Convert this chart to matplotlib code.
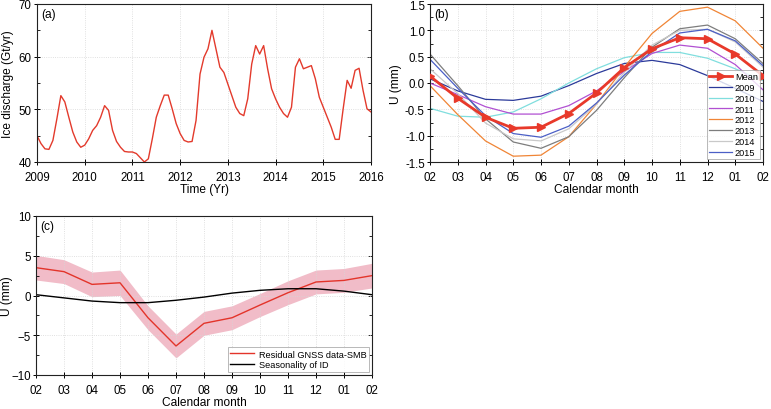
import numpy as np
import matplotlib
matplotlib.use("Agg")
import matplotlib.pyplot as plt
from matplotlib.ticker import MultipleLocator

plt.rcParams['font.family'] = ['Liberation Sans', 'DejaVu Sans']
plt.rcParams['font.size'] = 8.3

# ---------------- data ----------------
ice_discharge = [45.0, 43.5, 42.5, 42.4, 44.1, 48.2, 52.6, 51.4, 48.5, 45.7,
                 43.8, 42.8, 43.2, 44.4, 46.0, 46.9, 48.5, 50.7, 49.8, 46.0,
                 43.9, 42.8, 42.0, 41.9, 41.9, 41.6, 40.8, 40.0, 40.6, 44.4,
                 48.5, 50.7, 52.7, 52.7, 50.1, 47.3, 45.4, 44.1, 43.8, 43.9,
                 47.9, 56.7, 59.9, 61.5, 65.0, 61.5, 58.0, 57.0, 54.8, 52.6,
                 50.4, 49.2, 48.8, 52.0, 58.6, 62.1, 60.5, 62.1, 57.7, 53.9,
                 52.0, 50.4, 49.2, 48.5, 50.4, 58.0, 59.6, 57.7, 58.0, 58.3,
                 55.8, 52.3, 50.4, 48.5, 46.6, 44.3, 44.3, 50.1, 55.5, 54.0,
                 57.4, 57.8, 53.6, 50.1, 49.5]
time_years = 2009 + np.arange(len(ice_discharge)) / 12.0

months = ['02', '03', '04', '05', '06', '07', '08', '09', '10', '11', '12', '01', '02']

mean_u = [0.13, -0.29, -0.65, -0.86, -0.84, -0.58, -0.19, 0.29, 0.65, 0.86, 0.84, 0.55, 0.14]
u_2009 = [0.08, -0.15, -0.31, -0.33, -0.25, -0.05, 0.18, 0.37, 0.43, 0.35, 0.14, -0.10, -0.35]
u_2010 = [-0.48, -0.63, -0.65, -0.55, -0.30, 0.00, 0.27, 0.48, 0.58, 0.58, 0.47, 0.27, 0.05]
u_2011 = [0.00, -0.22, -0.45, -0.59, -0.59, -0.43, -0.15, 0.22, 0.56, 0.72, 0.66, 0.35, -0.13]
u_2012 = [-0.05, -0.60, -1.10, -1.39, -1.37, -1.02, -0.40, 0.30, 0.94, 1.36, 1.44, 1.18, 0.66]
u_2013 = [0.55, -0.05, -0.68, -1.12, -1.24, -1.02, -0.52, 0.10, 0.68, 1.03, 1.10, 0.84, 0.37]
u_2014 = [0.27, -0.20, -0.76, -1.06, -1.10, -0.87, -0.40, 0.20, 0.72, 1.00, 1.02, 0.78, 0.30]
u_2015 = [0.45, -0.10, -0.62, -0.96, -1.03, -0.82, -0.38, 0.15, 0.60, 0.95, 1.02, 0.80, 0.33]

years = ['2009', '2010', '2011', '2012', '2013', '2014', '2015']
year_series = [u_2009, u_2010, u_2011, u_2012, u_2013, u_2014, u_2015]
year_colors = ['#2b3a9a', '#80dede', '#b150d2', '#f08536', '#7d7d7d', '#c9c9c9', '#4b5fc6']

residual = [3.5, 3.0, 1.4, 1.6, -2.8, -6.35, -3.5, -2.8, -1.2, 0.35, 1.7, 1.9, 2.5]
residual_err = [1.55, 1.5, 1.55, 1.6, 1.5, 1.5, 1.5, 1.5, 1.45, 1.5, 1.5, 1.5, 1.55]
seasonality_id = [0.1, -0.3, -0.7, -0.9, -0.9, -0.6, -0.2, 0.3, 0.65, 0.85, 0.85, 0.55, 0.1]

# ---------------- figure ----------------
W, H = 771, 410
fig = plt.figure(figsize=(W / 100, H / 100), dpi=100)


def px_axes(l, t, r, b):
    return fig.add_axes([l / W, 1 - b / H, (r - l) / W, (b - t) / H])


def style(ax, left_px, width_px, label_px):
    ax.grid(True, color='#d6d6d6', linestyle=':', linewidth=0.6)
    ax.tick_params(which='major', direction='inout', top=False, right=False,
                   length=4.5, width=0.7, labelsize=8.3)
    ax.tick_params(axis='y', which='major', pad=1.5)
    ax.tick_params(axis='x', which='major', pad=4.0)
    ax.tick_params(which='minor', direction='in', length=2, width=0.6)
    for s in ax.spines.values():
        s.set_linewidth(0.8)
        s.set_color('#222222')
    sec = ax.secondary_yaxis('right')
    sec.tick_params(which='both', direction='in', labelright=False, length=3, width=0.6)
    sec.tick_params(which='minor', length=2)
    sec.spines['right'].set_visible(False)
    # label_px = horizontal centre of the rotated y label, in figure pixels
    ax.yaxis.label.set_va('center')
    ax.yaxis.set_label_coords((label_px - left_px) / width_px, 0.5)
    return sec


# (a)
axa = px_axes(37, 5, 371, 163)
axa.plot(time_years, ice_discharge, color='#e33a2c', linewidth=1.0)
axa.set_xlim(2009, 2016)
axa.set_ylim(40, 70)
axa.yaxis.set_major_locator(MultipleLocator(10))
axa.yaxis.set_minor_locator(MultipleLocator(5))
axa.xaxis.set_major_locator(MultipleLocator(1))
axa.set_xlabel('Time (Yr)', labelpad=0.5, fontsize=8.6)
axa.set_ylabel('Ice discharge (Gt/yr)', fontsize=8.6)
sec = style(axa, 37, 334, 8)
sec.yaxis.set_major_locator(MultipleLocator(10))
sec.yaxis.set_minor_locator(MultipleLocator(5))
axa.text(0.012, 0.975, '(a)', transform=axa.transAxes, va='top', ha='left', fontsize=8.6)

# (b)
x = np.arange(len(months))
axb = px_axes(430, 5, 763, 163)
handles = []
mean_line, = axb.plot(x, mean_u, color='#e8392a', linewidth=2.0, marker='>',
                      markersize=6, label='Mean', zorder=5)
handles.append(mean_line)
for name, vals, col in zip(years, year_series, year_colors):
    h, = axb.plot(x, vals, color=col, linewidth=0.9, label=name)
    handles.append(h)
axb.set_xlim(0, 12)
axb.set_ylim(-1.5, 1.5)
axb.set_xticks(x)
axb.set_xticklabels(months)
axb.yaxis.set_major_locator(MultipleLocator(0.5))
axb.yaxis.set_minor_locator(MultipleLocator(0.25))
axb.yaxis.set_major_formatter(matplotlib.ticker.FormatStrFormatter('%.1f'))
axb.set_xlabel('Calendar month', labelpad=0.5, fontsize=8.6)
axb.set_ylabel('U (mm)', fontsize=8.6)
sec = style(axb, 430, 333, 396)
sec.yaxis.set_major_locator(MultipleLocator(0.5))
sec.yaxis.set_minor_locator(MultipleLocator(0.25))
axb.text(0.012, 0.975, '(b)', transform=axb.transAxes, va='top', ha='left', fontsize=8.6)
leg = axb.legend(handles=handles, loc='lower right', frameon=True, fancybox=False,
                 edgecolor='#999999', fontsize=6.6, handlelength=2.5,
                 handletextpad=0.3, borderpad=0.25, labelspacing=0.2,
                 borderaxespad=0.3, markerscale=0.9)
leg.get_frame().set_linewidth(0.6)

# (c)
axc = px_axes(36, 217, 372, 376)
res = np.array(residual)
err = np.array(residual_err)
axc.fill_between(x, res - err, res + err, color='#f1bcc8', linewidth=0)
axc.plot(x, res, color='#e3342a', linewidth=1.0, label='Residual GNSS data-SMB')
axc.plot(x, seasonality_id, color='black', linewidth=1.0, label='Seasonality of ID')
axc.set_xlim(0, 12)
axc.set_ylim(-10, 10)
axc.set_xticks(x)
axc.set_xticklabels(months)
axc.yaxis.set_major_locator(MultipleLocator(5))
axc.yaxis.set_minor_locator(MultipleLocator(2.5))
axc.set_xlabel('Calendar month', labelpad=0.5, fontsize=8.6)
axc.set_ylabel('U (mm)', fontsize=8.6)
sec = style(axc, 36, 336, 7)
sec.yaxis.set_major_locator(MultipleLocator(5))
sec.yaxis.set_minor_locator(MultipleLocator(2.5))
axc.text(0.012, 0.975, '(c)', transform=axc.transAxes, va='top', ha='left', fontsize=8.6)
leg = axc.legend(loc='lower right', frameon=True, fancybox=False, edgecolor='#999999',
                 fontsize=6.6, handlelength=2.6, handletextpad=0.5, borderpad=0.3,
                 labelspacing=0.2, borderaxespad=0.3)
leg.get_frame().set_linewidth(0.6)

fig.savefig('out.png', dpi=100)
